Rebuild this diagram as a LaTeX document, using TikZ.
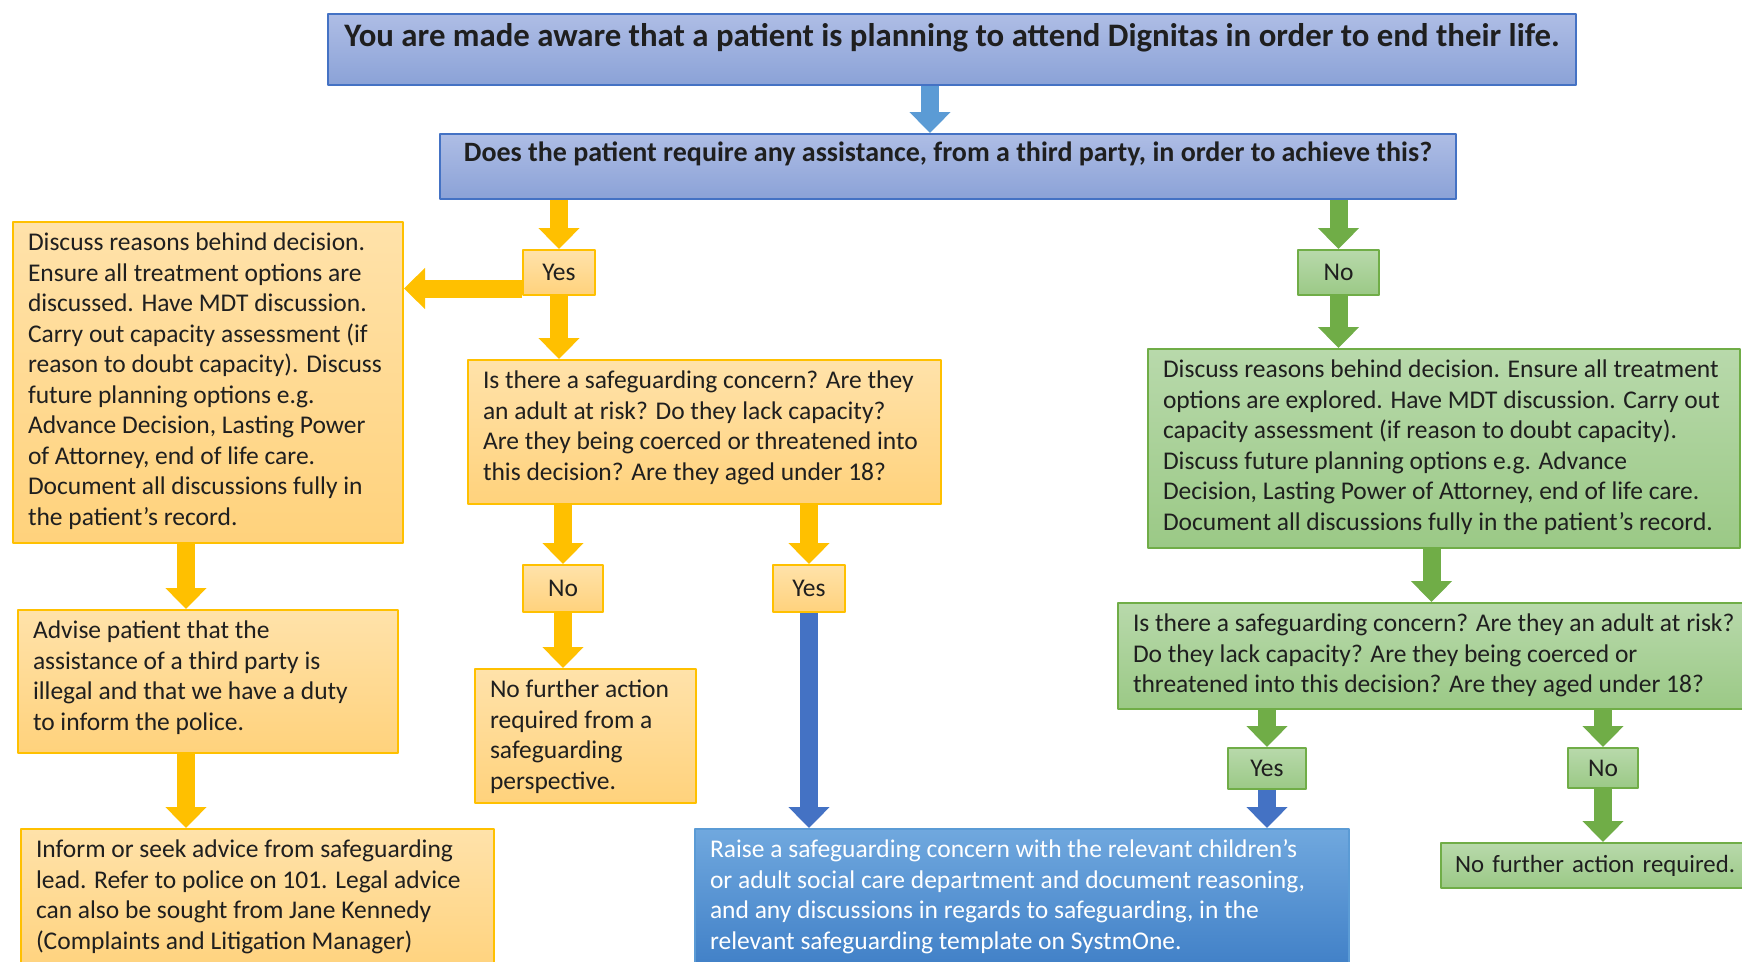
\documentclass[tikz,border=0pt]{standalone}
\usepackage{fontspec}
\setmainfont{Carlito}
\usepackage{tikz}
\usetikzlibrary{arrows.meta,calc,positioning}
\definecolor{blueedge}{HTML}{4472C4}
\definecolor{bluetop}{HTML}{AEBDE5}
\definecolor{bluebot}{HTML}{8BA2D7}
\definecolor{yedge}{HTML}{FFC000}
\definecolor{ytop}{HTML}{FFE2AA}
\definecolor{ybot}{HTML}{FFD27C}
\definecolor{gedge}{HTML}{70AD47}
\definecolor{gtop}{HTML}{B8D9AB}
\definecolor{gbot}{HTML}{9BC986}
\definecolor{rtop}{HTML}{70A8DE}
\definecolor{rbot}{HTML}{3E7EC6}
\definecolor{redge}{HTML}{5B9BD5}
\definecolor{toparrow}{HTML}{5B9BD5}
\newcommand{\boxtext}[3]{\parbox[c][\dimexpr#2pt-22pt\relax][t]{#1pt}{\raggedright\leftskip=15pt #3}}
\newcommand{\headtext}[3]{\parbox[c][\dimexpr#2pt-22pt\relax][t]{#1pt}{\centering #3}}
\tikzset{
  every picture/.append style={line cap=round,line join=round},
  flow box/.style={anchor=north west,inner xsep=0pt,inner ysep=11pt,line width=2pt,text=black!88,font=\fontsize{25.5}{30.5}\selectfont},
  flow blue/.style={flow box,draw=blueedge,top color=bluetop,bottom color=bluebot},
  flow yellow/.style={flow box,draw=yedge,top color=ytop,bottom color=ybot},
  flow green/.style={flow box,draw=gedge,top color=gtop,bottom color=gbot},
  flow raise/.style={flow box,draw=redge,top color=rtop,bottom color=rbot,text=white},
  flow tag/.style={inner sep=0pt,font=\fontsize{25.5}{30}\selectfont},
  flow arrow/.style={line cap=butt,line width=18pt,-{Triangle[width=40pt,length=21pt]}},
  flow yarrow/.style={flow arrow,yedge},
  flow garrow/.style={flow arrow,gedge},
  flow barrow/.style={flow arrow,blueedge}
}
\begin{document}
\begin{tikzpicture}[x=1pt,y=-1pt]
  \useasboundingbox (0,0) rectangle (1742,961);
  \node[flow blue,inner ysep=9pt,font=\bfseries\fontsize{32.8}{36}\selectfont] (aware) at (327,13) {\headtext{1248}{75}{You are made aware that a patient is planning to attend Dignitas in order to end their life.}};
  \node[flow blue,inner ysep=8pt,font=\bfseries\fontsize{28}{32}\selectfont] (assist) at (439,133) {\headtext{1016}{71}{Does the patient require any assistance, from a third party, in order to achieve this?}};
  \node[flow yellow,flow tag,minimum width=72pt,minimum height=45pt] (yesA) at (522,249) {Yes};
  \node[flow green,flow tag,minimum width=81pt,minimum height=45pt] (noA) at (1297,249) {No};
  \node[flow yellow] (discuss) at (12,221) {\boxtext{390}{321}{Discuss reasons behind decision.\\ Ensure all treatment options are\\ discussed. Have MDT discussion.\\ Carry out capacity assessment (if\\ reason to doubt capacity). Discuss\\ future planning options e.g.\\ Advance Decision, Lasting Power\\ of Attorney, end of life care.\\ Document all discussions fully in\\ the patient’s record.}};
  \node[flow yellow] (concernA) at (467,359) {\boxtext{473}{144}{Is there a safeguarding concern? Are they\\ an adult at risk? Do they lack capacity?\\ Are they being coerced or threatened into\\ this decision? Are they aged under 18?}};
  \node[flow yellow,flow tag,minimum width=80pt,minimum height=47pt] (noB) at (522,564) {No};
  \node[flow yellow,flow tag,minimum width=72pt,minimum height=47pt] (yesB) at (772,564) {Yes};
  \node[flow yellow] (nofurtherA) at (474,668) {\boxtext{221}{134}{No further action\\ required from a\\ safeguarding\\ perspective.}};
  \node[flow yellow] (advise) at (17,609) {\boxtext{380}{143}{Advise patient that the\\ assistance of a third party is\\ illegal and that we have a duty\\ to inform the police.}};
  \node[flow yellow] (inform) at (20,828) {\boxtext{473}{145}{Inform or seek advice from safeguarding\\ lead. Refer to police on 101. Legal advice\\ can also be sought from Jane Kennedy\\ (Complaints and Litigation Manager)}};
  \node[flow raise] (raise) at (694,828) {\boxtext{654}{145}{Raise a safeguarding concern with the relevant children’s\\ or adult social care department and document reasoning,\\ and any discussions in regards to safeguarding, in the\\ relevant safeguarding template on SystmOne.}};
  \node[flow green] (discussB) at (1147,348) {\boxtext{592}{199}{Discuss reasons behind decision. Ensure all treatment\\ options are explored. Have MDT discussion. Carry out\\ capacity assessment (if reason to doubt capacity).\\ Discuss future planning options e.g. Advance\\ Decision, Lasting Power of Attorney, end of life care.\\ Document all discussions fully in the patient’s record.}};
  \node[flow green] (concernB) at (1117,602) {\boxtext{627}{106}{Is there a safeguarding concern? Are they an adult at risk?\\ Do they lack capacity? Are they being coerced or\\ threatened into this decision? Are they aged under 18?}};
  \node[flow green,flow tag,minimum width=78pt,minimum height=41pt] (yesC) at (1227,747) {Yes};
  \node[flow green,flow tag,minimum width=70pt,minimum height=40pt] (noC) at (1567,747) {No};
  \node[flow green,inner ysep=0pt,inner xsep=14pt,minimum height=45pt,text width=330pt,font=\fontsize{24.8}{30}\selectfont] (nofurtherB) at (1440,842) {No further action required.};
  \coordinate (colA) at (930,0);
  \coordinate (colL) at (186,0);
  \coordinate (toLeft) at ([yshift=-16pt]yesA.west);
  \draw[flow arrow,toparrow] (aware.south -| colA) -- (assist.north -| colA);
  \draw[flow yarrow] (assist.south -| yesA) -- (yesA.north);
  \draw[flow yarrow] (toLeft) -- (toLeft -| discuss.east);
  \draw[flow yarrow] (yesA.south) -- (concernA.north -| yesA);
  \draw[flow yarrow] (concernA.south -| noB) -- (noB.north);
  \draw[flow yarrow] (concernA.south -| yesB) -- (yesB.north);
  \draw[flow yarrow] (noB.south) -- (nofurtherA.north -| noB);
  \draw[flow barrow] (yesB.south) -- (raise.north -| yesB);
  \draw[flow yarrow] (discuss.south -| colL) -- (advise.north -| colL);
  \draw[flow yarrow] (advise.south -| colL) -- (inform.north -| colL);
  \draw[flow garrow] (assist.south -| noA) -- (noA.north);
  \draw[flow garrow] (noA.south) -- (discussB.north -| noA);
  \draw[flow garrow] (discussB.south -| concernB) -- (concernB.north);
  \draw[flow garrow] (concernB.south -| yesC) -- (yesC.north);
  \draw[flow barrow] (yesC.south) -- (raise.north -| yesC);
  \draw[flow garrow] (concernB.south -| noC) -- (noC.north);
  \draw[flow garrow] (noC.south) -- (nofurtherB.north -| noC);
\end{tikzpicture}
\end{document}
